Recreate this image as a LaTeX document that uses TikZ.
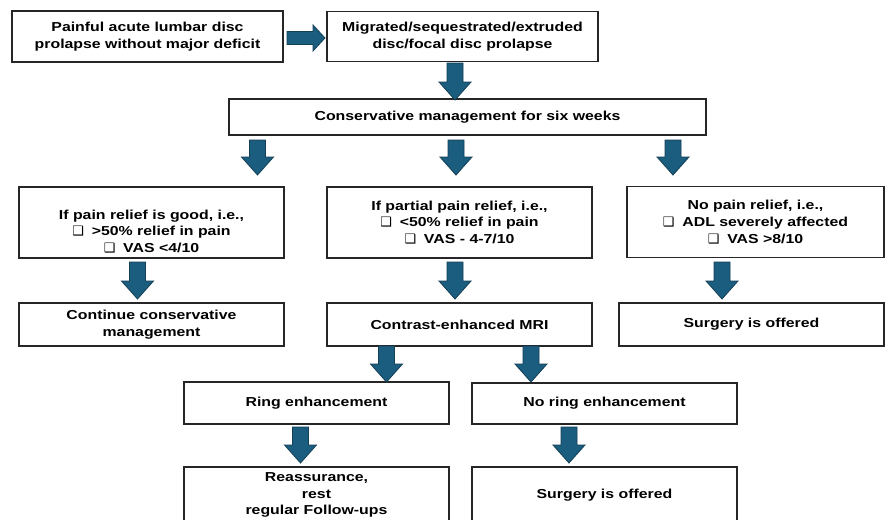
\documentclass[tikz,border=0pt]{standalone}
\usepackage{fontspec}
\setmainfont{Liberation Sans}[FakeStretch=1.22]
\newfontfamily\chkfont{DejaVu Sans}
\definecolor{arrowfill}{HTML}{1B5D7F}
\definecolor{arrowline}{HTML}{143F56}
\newcommand{\chk}{{\chkfont\fontsize{13}{14}\selectfont ❑}\hspace{0.6em}}
\newcommand{\blockdown}[2]{%
  \draw[barrow] (#1) ++(-8,0) -- ++(16,0) -- ++(0,{#2-18}) -- ++(8,0)
    -- ++(-16,18) -- ++(-16,-18) -- ++(8,0) -- cycle;}
\tikzset{
  box/.style={draw=black!85, line width=1.5pt, fill=white, inner sep=0pt,
    align=center, font=\fontsize{13}{16.7}\selectfont\bfseries},
  txt/.style={inner sep=0pt, align=center, font=\fontsize{13}{16.7}\selectfont\bfseries},
  barrow/.style={fill=arrowfill, draw=arrowline, line width=0.8pt, line join=miter}
}
\begin{document}
\begin{tikzpicture}[x=1pt,y=-1pt]
\clip (0,0) rectangle (885,519);
\fill[white] (0,0) rectangle (885,519);
% top row
\node[box, minimum width=271, minimum height=51] (p1) at (147.5,36.5)
  {Painful acute lumbar disc\\prolapse without major deficit};
\node[box, minimum width=271, minimum height=50] (p2) at (462.5,36.5)
  {Migrated/sequestrated/extruded\\disc/focal disc prolapse};
\node[box, minimum width=477, minimum height=36] (cm) at (467.5,117)
  {Conservative management for six weeks};
% second row
\node[box, minimum width=265, minimum height=71,
  label={[txt, yshift=-9pt]center:{If pain relief is good, i.e.,\\\chk>50\% relief in pain\\\chk VAS <4/10}}]
  (good) at (151.5,222.5) {};
\node[box, minimum width=265, minimum height=71] (part) at (459.5,222.5)
  {If partial pain relief, i.e.,\\\chk<50\% relief in pain\\\chk VAS - 4-7/10};
\node[box, minimum width=257, minimum height=71] (none) at (755.5,222)
  {No pain relief, i.e.,\\\chk ADL severely affected\\\chk VAS >8/10};
% third row
\node[box, minimum width=265, minimum height=43] (cont) at (151.5,324.5)
  {Continue conservative\\management};
\node[box, minimum width=265, minimum height=43] (mri) at (459.5,324.5)
  {Contrast-enhanced MRI};
\node[box, minimum width=265, minimum height=43] (surg1) at (751.5,324.5)
  {Surgery is offered};
% fourth row
\node[box, minimum width=265, minimum height=42] (ring) at (316.5,403)
  {Ring enhancement};
\node[box, minimum width=265, minimum height=41] (noring) at (604.5,403.5)
  {No ring enhancement};
% fifth row
\node[box, minimum width=265, minimum height=56] (reas) at (316.5,495)
  {Reassurance,\\rest\\regular Follow-ups};
\node[box, minimum width=265, minimum height=56] (surg2) at (604.5,495)
  {Surgery is offered};
% arrow anchors
\coordinate (r1) at (287,38);
\coordinate (d1) at (455,63);
\coordinate (d2) at (257.5,140);
\coordinate (d3) at (456,140);
\coordinate (d4) at (673,140);
\coordinate (e1) at (137.5,262);
\coordinate (e2) at (455,262);
\coordinate (e3) at (722,262);
\coordinate (f1) at (386.5,346);
\coordinate (f2) at (531,346);
\coordinate (g1) at (300.5,427);
\coordinate (g2) at (569,427);
% right arrow
\draw[barrow] (r1) ++(0,-6.5) -- ++(26,0) -- ++(0,-6.5) -- ++(12,13)
  -- ++(-12,13) -- ++(0,-6.5) -- ++(-26,0) -- cycle;
% down arrows
\blockdown{d1}{37}
\blockdown{d2}{35}
\blockdown{d3}{35}
\blockdown{d4}{35}
\blockdown{e1}{37}
\blockdown{e2}{37}
\blockdown{e3}{37}
\blockdown{f1}{36}
\blockdown{f2}{36}
\blockdown{g1}{36}
\blockdown{g2}{36}
\end{tikzpicture}
\end{document}
